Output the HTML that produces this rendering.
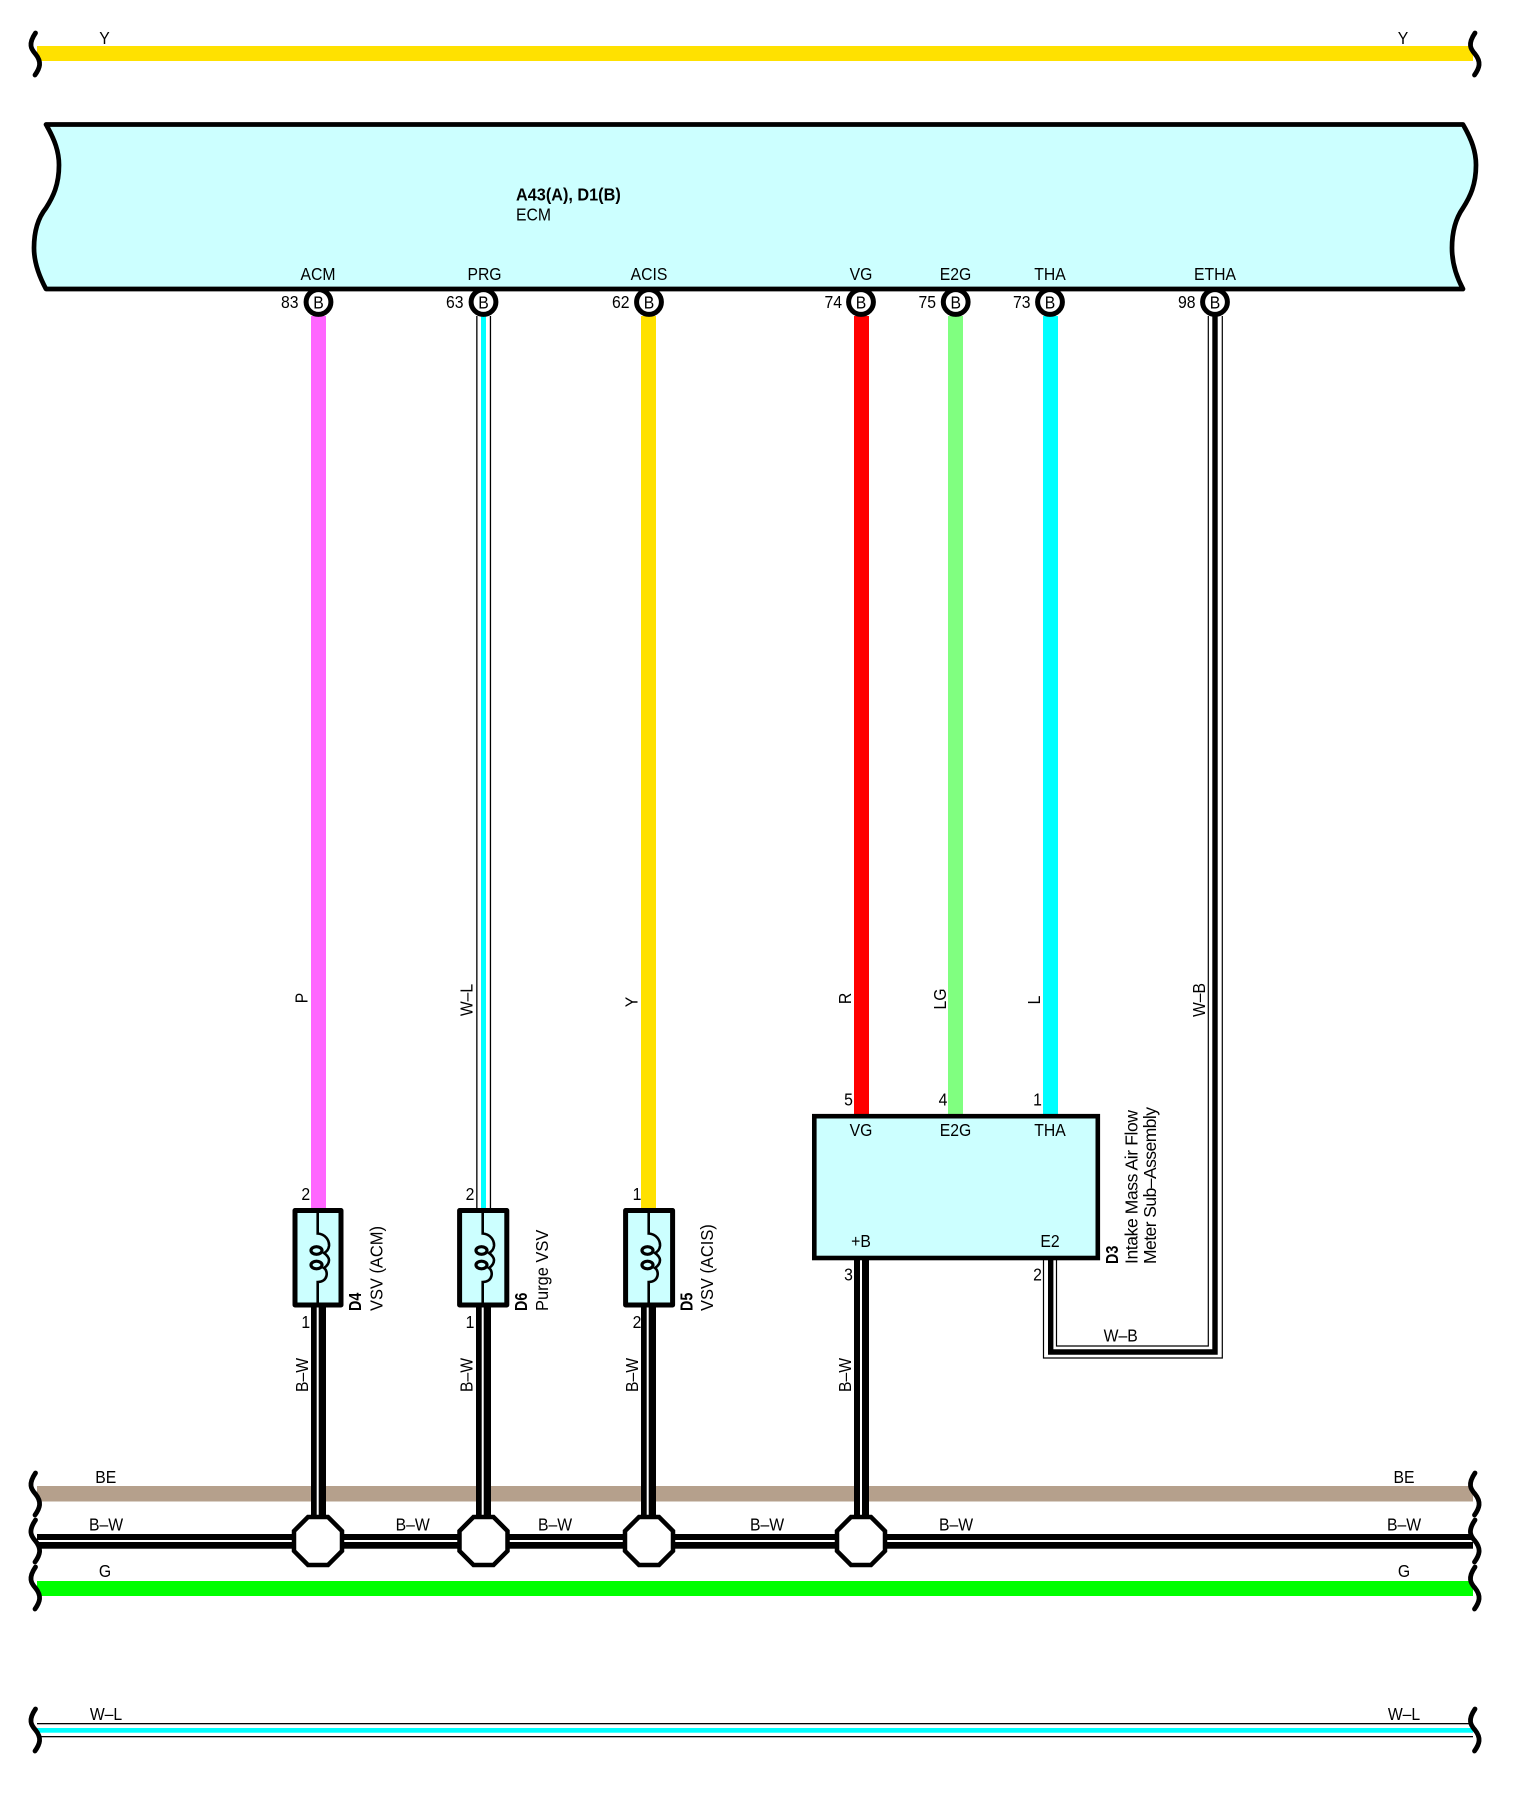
<!DOCTYPE html>
<html><head><meta charset="utf-8"><style>
html,body{margin:0;padding:0;background:#fff}
svg{display:block}
text{font-family:"Liberation Sans",sans-serif;font-size:17.5px;fill:#000}
.m{text-anchor:middle}
.b{font-weight:bold}
.e{text-anchor:end}
.s{fill:none;stroke:#000;stroke-width:4.8;stroke-linecap:round}
.o{fill:#fff;stroke:#000;stroke-width:4.5}
.c{fill:#fff;stroke:#000;stroke-width:5}
.d{fill:#ccffff;stroke:#000;stroke-width:5;stroke-linejoin:round}
.k{fill:none;stroke:#000;stroke-width:2.6}
.l{fill:none;stroke:#000;stroke-width:3.2}
</style></head><body>
<svg width="1518" height="1797" viewBox="0 0 1518 1797" xmlns="http://www.w3.org/2000/svg">
<rect width="1518" height="1797" fill="#fff"/>

<!-- buses -->
<rect x="37" y="46" width="1436" height="15" fill="#ffe100"/>
<rect x="37" y="1486" width="1436" height="15.5" fill="#b5a08c"/>
<rect x="37" y="1534" width="1436" height="14.7" fill="#000"/>
<rect x="37" y="1540" width="1436" height="2" fill="#fff"/>
<rect x="37" y="1581" width="1436" height="15" fill="#00ff00"/>
<rect x="37" y="1723" width="1436" height="1.3" fill="#000"/>
<rect x="37" y="1728" width="1436" height="4.7" fill="#00ffff"/>
<rect x="37" y="1736" width="1436" height="1.3" fill="#000"/>

<!-- break marks -->
<path class="s" d="M35.5 33 C28 44 31 49 35.5 54 C42 62 40 68 35 75"/>
<path class="s" d="M35.5 1473 C28 1484 31 1489 35.5 1494 C42 1502 40 1508 35 1515"/>
<path class="s" d="M35.5 1520 C28 1531 31 1536 35.5 1541 C42 1549 40 1555 35 1562"/>
<path class="s" d="M35.5 1567 C28 1578 31 1583 35.5 1588 C42 1596 40 1602 35 1609"/>
<path class="s" d="M35.5 1709 C28 1720 31 1725 35.5 1730 C42 1738 40 1744 35 1751"/>
<path class="s" d="M1475 33 C1467.500 44 1470.500 49 1475 54 C1481.500 62 1479.500 68 1474.500 75"/>
<path class="s" d="M1475 1473 C1467.500 1484 1470.500 1489 1475 1494 C1481.500 1502 1479.500 1508 1474.500 1515"/>
<path class="s" d="M1475 1520 C1467.500 1531 1470.500 1536 1475 1541 C1481.500 1549 1479.500 1555 1474.500 1562"/>
<path class="s" d="M1475 1567 C1467.500 1578 1470.500 1583 1475 1588 C1481.500 1596 1479.500 1602 1474.500 1609"/>
<path class="s" d="M1475 1709 C1467.500 1720 1470.500 1725 1475 1730 C1481.500 1738 1479.500 1744 1474.500 1751"/>

<!-- ECM -->
<path d="M46 124.500 H1463 C1472 140 1476 152 1476 165 C1476 185 1470 197 1463 208 C1456 218 1452 232 1452 248 C1452 262 1456 276 1463 289 H46 C39 276 34 262 34 248 C34 232 38 218 46 208 C53 197 59 185 59 165 C59 152 55 140 46 124.500 Z" fill="#ccffff" stroke="#000" stroke-width="4.7" stroke-linejoin="round"/>

<!-- vertical wires -->
<rect x="311" y="316" width="15" height="893" fill="#ff66ff"/>
<rect x="476.200" y="316" width="1.300" height="893" fill="#000"/>
<rect x="489.800" y="316" width="1.300" height="893" fill="#000"/>
<rect x="481" y="316" width="5" height="893" fill="#00ffff"/>
<rect x="641" y="316" width="15" height="893" fill="#ffe100"/>
<rect x="854" y="316" width="15" height="800" fill="#ff0000"/>
<rect x="948" y="316" width="15" height="800" fill="#80ff80"/>
<rect x="1043" y="316" width="15" height="800" fill="#00ffff"/>

<!-- W-B wire -->
<path d="M1215 316 V1352 H1050.700 V1258" fill="none" stroke="#000" stroke-width="5.400"/>
<path d="M1222.300 316 V1358 H1043.500 V1258" fill="none" stroke="#000" stroke-width="1.200"/>
<path d="M1208.300 316 V1346 H1056.500 V1258" fill="none" stroke="#000" stroke-width="1.200"/>

<!-- B-W verticals -->
<g fill="#000">
<rect x="311" y="1305" width="15" height="215"/>
<rect x="476" y="1305" width="15" height="215"/>
<rect x="641" y="1305" width="15" height="215"/>
<rect x="854" y="1258" width="15" height="262"/>
</g>
<g fill="#fff">
<rect x="316.700" y="1307" width="2" height="213"/>
<rect x="481.700" y="1307" width="2" height="213"/>
<rect x="646.700" y="1307" width="2" height="213"/>
<rect x="860" y="1260" width="2" height="260"/>
</g>

<!-- splices -->
<polygon class="o" points="308,1517 328,1517 342,1531 342,1551 328,1565 308,1565 294,1551 294,1531"/>
<polygon class="o" points="473.500,1517 493.500,1517 507.500,1531 507.500,1551 493.500,1565 473.500,1565 459.500,1551 459.500,1531"/>
<polygon class="o" points="639,1517 659,1517 673,1531 673,1551 659,1565 639,1565 625,1551 625,1531"/>
<polygon class="o" points="851,1517 871,1517 885,1531 885,1551 871,1565 851,1565 837,1551 837,1531"/>

<!-- ECM connectors -->
<circle class="c" cx="318.500" cy="302" r="12.400"/>
<circle class="c" cx="483.500" cy="302" r="12.400"/>
<circle class="c" cx="649" cy="302" r="12.400"/>
<circle class="c" cx="861" cy="302" r="12.400"/>
<circle class="c" cx="955.700" cy="302" r="12.400"/>
<circle class="c" cx="1050" cy="302" r="12.400"/>
<circle class="c" cx="1215" cy="302" r="12.400"/>

<!-- devices -->
<rect class="d" x="295" y="1210.500" width="46" height="94.500"/>
<rect class="d" x="459.600" y="1210.500" width="47.200" height="94.500"/>
<rect class="d" x="625.600" y="1210.500" width="47" height="94.500"/>
<rect x="814.300" y="1116.200" width="283.500" height="141.800" fill="#ccffff" stroke="#000" stroke-width="4.600"/>

<!-- coils -->
<g>
<path class="k" d="M317.700 1210 V1233.500 C325 1234 329.500 1240 329 1246 C328.500 1250 326 1252 324 1253 C327 1255 329 1258 329 1260 C329 1263 327 1266 324 1268 C328.500 1271 328 1282 317.700 1282 V1305"/>
<ellipse class="l" cx="316.500" cy="1250.500" rx="5.500" ry="3.800"/>
<ellipse class="l" cx="316.500" cy="1265" rx="5.500" ry="3.800"/>
</g>
<g transform="translate(165 0)">
<path class="k" d="M317.700 1210 V1233.500 C325 1234 329.500 1240 329 1246 C328.500 1250 326 1252 324 1253 C327 1255 329 1258 329 1260 C329 1263 327 1266 324 1268 C328.500 1271 328 1282 317.700 1282 V1305"/>
<ellipse class="l" cx="316.500" cy="1250.500" rx="5.500" ry="3.800"/>
<ellipse class="l" cx="316.500" cy="1265" rx="5.500" ry="3.800"/>
</g>
<g transform="translate(331 0)">
<path class="k" d="M317.700 1210 V1233.500 C325 1234 329.500 1240 329 1246 C328.500 1250 326 1252 324 1253 C327 1255 329 1258 329 1260 C329 1263 327 1266 324 1268 C328.500 1271 328 1282 317.700 1282 V1305"/>
<ellipse class="l" cx="316.500" cy="1250.500" rx="5.500" ry="3.800"/>
<ellipse class="l" cx="316.500" cy="1265" rx="5.500" ry="3.800"/>
</g>

<!-- bus labels -->
<text class="m" transform="translate(104.500 44) scale(.9 1)">Y</text>
<text class="m" transform="translate(1403 44) scale(.9 1)">Y</text>
<text class="m" transform="translate(105.700 1483) scale(.9 1)">BE</text>
<text class="m" transform="translate(1404 1483) scale(.9 1)">BE</text>
<text class="m" transform="translate(106 1530.500) scale(.9 1)">B–W</text>
<text class="m" transform="translate(412.700 1530.500) scale(.9 1)">B–W</text>
<text class="m" transform="translate(555 1530.500) scale(.9 1)">B–W</text>
<text class="m" transform="translate(767 1530.500) scale(.9 1)">B–W</text>
<text class="m" transform="translate(956 1530.500) scale(.9 1)">B–W</text>
<text class="m" transform="translate(1404 1530.500) scale(.9 1)">B–W</text>
<text class="m" transform="translate(105 1577) scale(.9 1)">G</text>
<text class="m" transform="translate(1404 1577) scale(.9 1)">G</text>
<text class="m" transform="translate(106 1720) scale(.9 1)">W–L</text>
<text class="m" transform="translate(1404 1720) scale(.9 1)">W–L</text>

<!-- ECM labels -->
<text class="b" transform="translate(516 200.500) scale(.93 1)">A43(A), D1(B)</text>
<text transform="translate(516 220.500) scale(.9 1)">ECM</text>
<text class="m" transform="translate(318 280) scale(.9 1)">ACM</text>
<text class="m" transform="translate(484.500 280) scale(.9 1)">PRG</text>
<text class="m" transform="translate(649 280) scale(.9 1)">ACIS</text>
<text class="m" transform="translate(861 280) scale(.9 1)">VG</text>
<text class="m" transform="translate(955.500 280) scale(.9 1)">E2G</text>
<text class="m" transform="translate(1050 280) scale(.9 1)">THA</text>
<text class="m" transform="translate(1215 280) scale(.9 1)">ETHA</text>
<text class="e" transform="translate(298.500 308) scale(.9 1)">83</text>
<text class="e" transform="translate(463.500 308) scale(.9 1)">63</text>
<text class="e" transform="translate(629.500 308) scale(.9 1)">62</text>
<text class="e" transform="translate(842 308) scale(.9 1)">74</text>
<text class="e" transform="translate(936 308) scale(.9 1)">75</text>
<text class="e" transform="translate(1030.500 308) scale(.9 1)">73</text>
<text class="e" transform="translate(1195.500 308) scale(.9 1)">98</text>
<text class="m" transform="translate(318.500 308.500) scale(.9 1)">B</text>
<text class="m" transform="translate(483.500 308.500) scale(.9 1)">B</text>
<text class="m" transform="translate(649 308.500) scale(.9 1)">B</text>
<text class="m" transform="translate(861 308.500) scale(.9 1)">B</text>
<text class="m" transform="translate(955.700 308.500) scale(.9 1)">B</text>
<text class="m" transform="translate(1050 308.500) scale(.9 1)">B</text>
<text class="m" transform="translate(1215 308.500) scale(.9 1)">B</text>

<!-- wire colour labels -->
<text class="m" transform="translate(307.700 998) rotate(-90) scale(.9 1)">P</text>
<text class="m" transform="translate(472.700 1000) rotate(-90) scale(.9 1)">W–L</text>
<text class="m" transform="translate(637.500 1002) rotate(-90) scale(.9 1)">Y</text>
<text class="m" transform="translate(851 998.500) rotate(-90) scale(.9 1)">R</text>
<text class="m" transform="translate(946 999) rotate(-90) scale(.9 1)">LG</text>
<text class="m" transform="translate(1040 1000) rotate(-90) scale(.9 1)">L</text>
<text class="m" transform="translate(1205 1000) rotate(-90) scale(.9 1)">W–B</text>

<text class="m" transform="translate(308 1375) rotate(-90) scale(.9 1)">B–W</text>
<text class="m" transform="translate(472.700 1375) rotate(-90) scale(.9 1)">B–W</text>
<text class="m" transform="translate(638 1375) rotate(-90) scale(.9 1)">B–W</text>
<text class="m" transform="translate(851 1375) rotate(-90) scale(.9 1)">B–W</text>
<text class="m" transform="translate(1120.700 1341.500) scale(.9 1)">W–B</text>

<!-- pin numbers -->
<text class="m" transform="translate(305.700 1200) scale(.9 1)">2</text>
<text class="m" transform="translate(470 1200) scale(.9 1)">2</text>
<text class="m" transform="translate(637 1200) scale(.9 1)">1</text>
<text class="m" transform="translate(305.700 1328) scale(.9 1)">1</text>
<text class="m" transform="translate(470 1328) scale(.9 1)">1</text>
<text class="m" transform="translate(637 1328) scale(.9 1)">2</text>
<text class="m" transform="translate(848.500 1105.500) scale(.9 1)">5</text>
<text class="m" transform="translate(943 1105.500) scale(.9 1)">4</text>
<text class="m" transform="translate(1037.500 1105.500) scale(.9 1)">1</text>
<text class="m" transform="translate(848.500 1280.500) scale(.9 1)">3</text>
<text class="m" transform="translate(1037.500 1280.500) scale(.9 1)">2</text>
<text class="m" transform="translate(861 1136) scale(.9 1)">VG</text>
<text class="m" transform="translate(955.500 1136) scale(.9 1)">E2G</text>
<text class="m" transform="translate(1050 1136) scale(.9 1)">THA</text>
<text class="m" transform="translate(861 1247) scale(.9 1)">+B</text>
<text class="m" transform="translate(1050 1247) scale(.9 1)">E2</text>

<!-- device labels -->
<text class="b" transform="translate(361.200 1311) rotate(-90) scale(.82 1)">D4</text>
<text transform="translate(382.700 1311) rotate(-90) scale(.94 1)">VSV (ACM)</text>
<text class="b" transform="translate(527.200 1311) rotate(-90) scale(.82 1)">D6</text>
<text transform="translate(548 1311) rotate(-90) scale(.94 1)">Purge VSV</text>
<text class="b" transform="translate(692.500 1311) rotate(-90) scale(.82 1)">D5</text>
<text transform="translate(713 1311) rotate(-90) scale(.94 1)">VSV (ACIS)</text>
<text class="b" transform="translate(1118 1264) rotate(-90) scale(.82 1)">D3</text>
<text transform="translate(1137.700 1264) rotate(-90)" textLength="154">Intake Mass Air Flow</text>
<text transform="translate(1156 1264) rotate(-90)" textLength="157">Meter Sub–Assembly</text>
</svg>
</body></html>
